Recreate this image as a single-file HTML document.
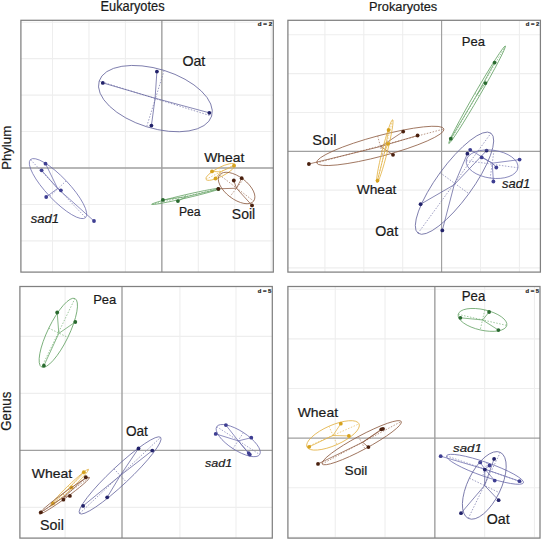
<!DOCTYPE html>
<html><head><meta charset="utf-8"><style>
html,body{margin:0;padding:0;background:#fff;width:542px;height:540px;overflow:hidden}
svg{display:block}
text{font-family:"Liberation Sans",sans-serif}
</style></head><body>
<svg width="542" height="540" viewBox="0 0 542 540">
<rect width="542" height="540" fill="#fff"/>
<path d="M20.9 22.20H273.3M52.50 20.3V272.1M20.9 58.65H273.3M88.95 20.3V272.1M20.9 95.10H273.3M125.40 20.3V272.1M20.9 131.55H273.3M198.30 20.3V272.1M20.9 204.45H273.3M234.75 20.3V272.1M20.9 240.90H273.3M271.20 20.3V272.1" stroke="#eeeeee" stroke-width="1.1" fill="none"/>
<path d="M161.85 20.3V272.1M20.9 168.00H273.3" stroke="#a0a0a0" stroke-width="1.4" fill="none"/>
<rect x="20.9" y="20.3" width="252.4" height="251.8" stroke="#808080" stroke-width="1.25" fill="none"/>
<path d="M324.90 20.3V272.1M287.9 34.75H540.4M363.80 20.3V272.1M287.9 73.60H540.4M402.70 20.3V272.1M287.9 112.45H540.4M480.50 20.3V272.1M287.9 190.15H540.4M519.40 20.3V272.1M287.9 229.00H540.4M287.9 267.85H540.4" stroke="#eeeeee" stroke-width="1.1" fill="none"/>
<path d="M441.60 20.3V272.1M287.9 151.30H540.4" stroke="#a0a0a0" stroke-width="1.15" fill="none"/>
<rect x="287.9" y="20.3" width="252.5" height="251.8" stroke="#808080" stroke-width="1.25" fill="none"/>
<path d="M65.10 286.5V538.1M179.90 286.5V538.1M236.00 286.5V538.1M19.9 336.40H272.3M19.9 393.40H272.3M19.9 507.40H272.3" stroke="#eeeeee" stroke-width="1.1" fill="none"/>
<path d="M122.00 286.5V538.1M19.9 450.40H272.3" stroke="#a0a0a0" stroke-width="1.4" fill="none"/>
<rect x="19.9" y="286.5" width="252.4" height="251.60000000000002" stroke="#808080" stroke-width="1.25" fill="none"/>
<path d="M287.9 289.30H540.0M335.25 286.5V538.1M287.9 338.90H540.0M385.05 286.5V538.1M287.9 388.50H540.0M484.65 286.5V538.1M287.9 487.70H540.0M534.45 286.5V538.1M287.9 537.30H540.0" stroke="#eeeeee" stroke-width="1.1" fill="none"/>
<path d="M434.85 286.5V538.1M287.9 438.10H540.0" stroke="#a0a0a0" stroke-width="1.4" fill="none"/>
<rect x="287.9" y="286.5" width="252.10000000000002" height="251.60000000000002" stroke="#808080" stroke-width="1.25" fill="none"/>
<ellipse cx="155.40" cy="98.60" rx="58.90" ry="29.50" transform="rotate(17.30 155.40 98.60)" fill="none" stroke="#62629c" stroke-width="0.75"/>
<path d="M99.16 81.08L211.64 116.12M164.17 70.43L146.63 126.77" stroke="#7272a8" stroke-width="0.7" stroke-dasharray="1.5 1.5" fill="none"/>
<path d="M155.10 98.22L102.80 82.90M155.10 98.22L156.90 71.60M155.10 98.22L209.30 112.80M155.10 98.22L151.40 125.60" stroke="#62629c" stroke-width="0.75" fill="none"/>
<circle cx="102.80" cy="82.90" r="1.9" fill="#22226a"/>
<circle cx="156.90" cy="71.60" r="1.9" fill="#22226a"/>
<circle cx="209.30" cy="112.80" r="1.9" fill="#22226a"/>
<circle cx="151.40" cy="125.60" r="1.9" fill="#22226a"/>
<ellipse cx="58.00" cy="188.60" rx="40.00" ry="11.30" transform="rotate(46.50 58.00 188.60)" fill="none" stroke="#6c6cac" stroke-width="0.75"/>
<path d="M30.47 159.59L85.53 217.61M66.20 180.82L49.80 196.38" stroke="#7c7cb4" stroke-width="0.7" stroke-dasharray="1.5 1.5" fill="none"/>
<path d="M57.64 188.46L45.50 163.70M57.64 188.46L41.60 170.30M57.64 188.46L60.90 190.30M57.64 188.46L46.20 197.00M57.64 188.46L94.00 221.00" stroke="#6c6cac" stroke-width="0.75" fill="none"/>
<circle cx="45.50" cy="163.70" r="1.9" fill="#3e3e92"/>
<circle cx="41.60" cy="170.30" r="1.9" fill="#3e3e92"/>
<circle cx="60.90" cy="190.30" r="1.9" fill="#3e3e92"/>
<circle cx="46.20" cy="197.00" r="1.9" fill="#3e3e92"/>
<circle cx="94.00" cy="221.00" r="1.9" fill="#3e3e92"/>
<ellipse cx="185.80" cy="196.40" rx="35.00" ry="1.70" transform="rotate(-13.10 185.80 196.40)" fill="none" stroke="#62a062" stroke-width="0.75"/>
<path d="M151.71 204.33L219.89 188.47M185.41 194.74L186.19 198.06" stroke="#74b074" stroke-width="0.7" stroke-dasharray="1.5 1.5" fill="none"/>
<path d="M186.40 196.70L162.90 199.90M186.40 196.70L177.90 201.10M186.40 196.70L218.40 189.10" stroke="#62a062" stroke-width="0.75" fill="none"/>
<circle cx="162.90" cy="199.90" r="1.9" fill="#2a6a30"/>
<circle cx="177.90" cy="201.10" r="1.9" fill="#2a6a30"/>
<circle cx="218.40" cy="189.10" r="1.9" fill="#2a6a30"/>
<ellipse cx="220.50" cy="171.90" rx="16.30" ry="4.50" transform="rotate(-27.00 220.50 171.90)" fill="none" stroke="#e2b040" stroke-width="0.75"/>
<path d="M205.98 179.30L235.02 164.50M218.46 167.89L222.54 175.91" stroke="#e6ba58" stroke-width="0.7" stroke-dasharray="1.5 1.5" fill="none"/>
<path d="M220.50 171.87L212.00 171.40M220.50 171.87L215.50 178.50M220.50 171.87L234.00 165.70" stroke="#e2b040" stroke-width="0.75" fill="none"/>
<circle cx="212.00" cy="171.40" r="1.9" fill="#d6a21e"/>
<circle cx="215.50" cy="178.50" r="1.9" fill="#d6a21e"/>
<circle cx="234.00" cy="165.70" r="1.9" fill="#d6a21e"/>
<ellipse cx="236.60" cy="188.00" rx="21.50" ry="11.00" transform="rotate(37.50 236.60 188.00)" fill="none" stroke="#8c5a40" stroke-width="0.75"/>
<path d="M219.54 174.91L253.66 201.09M243.30 179.27L229.90 196.73" stroke="#9c6c52" stroke-width="0.7" stroke-dasharray="1.5 1.5" fill="none"/>
<path d="M236.45 188.22L233.80 180.50M236.45 188.22L241.70 178.20M236.45 188.22L252.00 205.40M236.45 188.22L218.30 188.80" stroke="#8c5a40" stroke-width="0.75" fill="none"/>
<circle cx="233.80" cy="180.50" r="1.9" fill="#4a200e"/>
<circle cx="241.70" cy="178.20" r="1.9" fill="#4a200e"/>
<circle cx="252.00" cy="205.40" r="1.9" fill="#4a200e"/>
<circle cx="218.30" cy="188.80" r="1.9" fill="#4a200e"/>
<ellipse cx="380.30" cy="145.90" rx="65.90" ry="10.30" transform="rotate(-14.90 380.30 145.90)" fill="none" stroke="#8c5a40" stroke-width="0.75"/>
<path d="M316.62 162.85L443.98 128.95M377.65 135.95L382.95 155.85" stroke="#9c6c52" stroke-width="0.7" stroke-dasharray="1.5 1.5" fill="none"/>
<path d="M380.68 146.47L308.90 164.00M380.68 146.47L403.20 131.60M380.68 146.47L417.60 135.50M380.68 146.47L393.00 154.80" stroke="#8c5a40" stroke-width="0.75" fill="none"/>
<circle cx="308.90" cy="164.00" r="1.9" fill="#4a200e"/>
<circle cx="403.20" cy="131.60" r="1.9" fill="#4a200e"/>
<circle cx="417.60" cy="135.50" r="1.9" fill="#4a200e"/>
<circle cx="393.00" cy="154.80" r="1.9" fill="#4a200e"/>
<ellipse cx="384.80" cy="151.20" rx="32.40" ry="2.60" transform="rotate(-76.00 384.80 151.20)" fill="none" stroke="#e2b040" stroke-width="0.75"/>
<path d="M376.96 182.64L392.64 119.76M382.28 150.57L387.32 151.83" stroke="#e6ba58" stroke-width="0.7" stroke-dasharray="1.5 1.5" fill="none"/>
<path d="M384.70 151.47L388.60 130.00M384.70 151.47L388.00 143.80M384.70 151.47L377.50 180.60" stroke="#e2b040" stroke-width="0.75" fill="none"/>
<circle cx="388.60" cy="130.00" r="1.9" fill="#d6a21e"/>
<circle cx="388.00" cy="143.80" r="1.9" fill="#d6a21e"/>
<circle cx="377.50" cy="180.60" r="1.9" fill="#d6a21e"/>
<ellipse cx="477.10" cy="94.70" rx="56.30" ry="2.60" transform="rotate(-59.90 477.10 94.70)" fill="none" stroke="#62a062" stroke-width="0.75"/>
<path d="M448.86 143.41L505.34 45.99M474.85 93.40L479.35 96.00" stroke="#74b074" stroke-width="0.7" stroke-dasharray="1.5 1.5" fill="none"/>
<path d="M476.93 94.80L494.60 62.60M476.93 94.80L485.40 83.10M476.93 94.80L450.80 138.70" stroke="#62a062" stroke-width="0.75" fill="none"/>
<circle cx="494.60" cy="62.60" r="1.9" fill="#2a6a30"/>
<circle cx="485.40" cy="83.10" r="1.9" fill="#2a6a30"/>
<circle cx="450.80" cy="138.70" r="1.9" fill="#2a6a30"/>
<ellipse cx="454.50" cy="183.20" rx="61.90" ry="17.80" transform="rotate(-53.90 454.50 183.20)" fill="none" stroke="#62629c" stroke-width="0.75"/>
<path d="M418.03 233.21L490.97 133.19M440.12 172.71L468.88 193.69" stroke="#7272a8" stroke-width="0.7" stroke-dasharray="1.5 1.5" fill="none"/>
<path d="M454.23 184.72L420.60 204.20M454.23 184.72L442.30 230.40M454.23 184.72L486.60 150.60M454.23 184.72L467.40 153.70" stroke="#62629c" stroke-width="0.75" fill="none"/>
<circle cx="420.60" cy="204.20" r="1.9" fill="#22226a"/>
<circle cx="442.30" cy="230.40" r="1.9" fill="#22226a"/>
<circle cx="486.60" cy="150.60" r="1.9" fill="#22226a"/>
<circle cx="467.40" cy="153.70" r="1.9" fill="#22226a"/>
<ellipse cx="492.10" cy="164.20" rx="26.10" ry="14.00" transform="rotate(7.90 492.10 164.20)" fill="none" stroke="#6c6cac" stroke-width="0.75"/>
<path d="M466.25 160.61L517.95 167.79M494.02 150.33L490.18 178.07" stroke="#7c7cb4" stroke-width="0.7" stroke-dasharray="1.5 1.5" fill="none"/>
<path d="M492.24 163.16L470.20 149.80M492.24 163.16L481.70 157.40M492.24 163.16L519.60 159.60M492.24 163.16L496.30 167.50M492.24 163.16L493.40 181.50" stroke="#6c6cac" stroke-width="0.75" fill="none"/>
<circle cx="470.20" cy="149.80" r="1.9" fill="#3e3e92"/>
<circle cx="481.70" cy="157.40" r="1.9" fill="#3e3e92"/>
<circle cx="519.60" cy="159.60" r="1.9" fill="#3e3e92"/>
<circle cx="496.30" cy="167.50" r="1.9" fill="#3e3e92"/>
<circle cx="493.40" cy="181.50" r="1.9" fill="#3e3e92"/>
<ellipse cx="58.30" cy="332.80" rx="38.10" ry="10.60" transform="rotate(-64.10 58.30 332.80)" fill="none" stroke="#62a062" stroke-width="0.75"/>
<path d="M41.66 367.07L74.94 298.53M48.76 328.17L67.84 337.43" stroke="#74b074" stroke-width="0.7" stroke-dasharray="1.5 1.5" fill="none"/>
<path d="M58.80 333.40L57.20 312.50M58.80 333.40L75.30 322.00M58.80 333.40L43.90 365.70" stroke="#62a062" stroke-width="0.75" fill="none"/>
<circle cx="57.20" cy="312.50" r="1.9" fill="#2a6a30"/>
<circle cx="75.30" cy="322.00" r="1.9" fill="#2a6a30"/>
<circle cx="43.90" cy="365.70" r="1.9" fill="#2a6a30"/>
<ellipse cx="120.10" cy="475.40" rx="55.60" ry="9.00" transform="rotate(-43.20 120.10 475.40)" fill="none" stroke="#62629c" stroke-width="0.75"/>
<path d="M79.57 513.46L160.63 437.34M113.94 468.84L126.26 481.96" stroke="#7272a8" stroke-width="0.7" stroke-dasharray="1.5 1.5" fill="none"/>
<path d="M120.28 475.55L83.10 505.90M120.28 475.55L107.20 497.30M120.28 475.55L138.50 448.40M120.28 475.55L152.30 450.60" stroke="#62629c" stroke-width="0.75" fill="none"/>
<circle cx="83.10" cy="505.90" r="1.9" fill="#22226a"/>
<circle cx="107.20" cy="497.30" r="1.9" fill="#22226a"/>
<circle cx="138.50" cy="448.40" r="1.9" fill="#22226a"/>
<circle cx="152.30" cy="450.60" r="1.9" fill="#22226a"/>
<ellipse cx="69.40" cy="487.70" rx="26.50" ry="2.20" transform="rotate(-43.90 69.40 487.70)" fill="none" stroke="#e2b040" stroke-width="0.75"/>
<path d="M50.31 506.08L88.49 469.32M67.87 486.11L70.93 489.29" stroke="#e6ba58" stroke-width="0.7" stroke-dasharray="1.5 1.5" fill="none"/>
<path d="M69.37 487.67L83.80 472.20M69.37 487.67L71.40 487.40M69.37 487.67L52.90 503.40" stroke="#e2b040" stroke-width="0.75" fill="none"/>
<circle cx="83.80" cy="472.20" r="1.9" fill="#d6a21e"/>
<circle cx="71.40" cy="487.40" r="1.9" fill="#d6a21e"/>
<circle cx="52.90" cy="503.40" r="1.9" fill="#d6a21e"/>
<ellipse cx="64.40" cy="495.70" rx="31.00" ry="2.60" transform="rotate(-36.10 64.40 495.70)" fill="none" stroke="#8c5a40" stroke-width="0.75"/>
<path d="M39.35 513.97L89.45 477.43M62.87 493.60L65.93 497.80" stroke="#9c6c52" stroke-width="0.7" stroke-dasharray="1.5 1.5" fill="none"/>
<path d="M64.97 496.27L85.80 477.20M64.97 496.27L69.90 495.90M64.97 496.27L63.40 499.70M64.97 496.27L40.80 512.30" stroke="#8c5a40" stroke-width="0.75" fill="none"/>
<circle cx="85.80" cy="477.20" r="1.9" fill="#4a200e"/>
<circle cx="69.90" cy="495.90" r="1.9" fill="#4a200e"/>
<circle cx="63.40" cy="499.70" r="1.9" fill="#4a200e"/>
<circle cx="40.80" cy="512.30" r="1.9" fill="#4a200e"/>
<ellipse cx="238.20" cy="440.60" rx="25.60" ry="9.60" transform="rotate(33.00 238.20 440.60)" fill="none" stroke="#6c6cac" stroke-width="0.75"/>
<path d="M216.73 426.66L259.67 454.54M243.43 432.55L232.97 448.65" stroke="#7c7cb4" stroke-width="0.7" stroke-dasharray="1.5 1.5" fill="none"/>
<path d="M238.28 440.88L225.90 425.10M238.28 440.88L215.70 433.90M238.28 440.88L251.30 437.70M238.28 440.88L248.70 453.10M238.28 440.88L249.80 454.60" stroke="#6c6cac" stroke-width="0.75" fill="none"/>
<circle cx="225.90" cy="425.10" r="1.9" fill="#3e3e92"/>
<circle cx="215.70" cy="433.90" r="1.9" fill="#3e3e92"/>
<circle cx="251.30" cy="437.70" r="1.9" fill="#3e3e92"/>
<circle cx="248.70" cy="453.10" r="1.9" fill="#3e3e92"/>
<circle cx="249.80" cy="454.60" r="1.9" fill="#3e3e92"/>
<ellipse cx="482.50" cy="319.90" rx="24.90" ry="10.30" transform="rotate(12.85 482.50 319.90)" fill="none" stroke="#62a062" stroke-width="0.75"/>
<path d="M458.22 314.36L506.78 325.44M484.79 309.86L480.21 329.94" stroke="#74b074" stroke-width="0.7" stroke-dasharray="1.5 1.5" fill="none"/>
<path d="M482.63 319.97L460.40 317.80M482.63 319.97L489.10 312.00M482.63 319.97L498.40 330.10" stroke="#62a062" stroke-width="0.75" fill="none"/>
<circle cx="460.40" cy="317.80" r="1.9" fill="#2a6a30"/>
<circle cx="489.10" cy="312.00" r="1.9" fill="#2a6a30"/>
<circle cx="498.40" cy="330.10" r="1.9" fill="#2a6a30"/>
<ellipse cx="333.00" cy="435.40" rx="28.50" ry="10.00" transform="rotate(-23.90 333.00 435.40)" fill="none" stroke="#e2b040" stroke-width="0.75"/>
<path d="M306.94 446.95L359.06 423.85M328.95 426.26L337.05 444.54" stroke="#e6ba58" stroke-width="0.7" stroke-dasharray="1.5 1.5" fill="none"/>
<path d="M332.97 435.47L309.20 446.80M332.97 435.47L340.80 423.70M332.97 435.47L348.90 435.90" stroke="#e2b040" stroke-width="0.75" fill="none"/>
<circle cx="309.20" cy="446.80" r="1.9" fill="#d6a21e"/>
<circle cx="340.80" cy="423.70" r="1.9" fill="#d6a21e"/>
<circle cx="348.90" cy="435.90" r="1.9" fill="#d6a21e"/>
<ellipse cx="361.70" cy="442.70" rx="44.90" ry="7.00" transform="rotate(-28.20 361.70 442.70)" fill="none" stroke="#8c5a40" stroke-width="0.75"/>
<path d="M322.13 463.92L401.27 421.48M358.39 436.53L365.01 448.87" stroke="#9c6c52" stroke-width="0.7" stroke-dasharray="1.5 1.5" fill="none"/>
<path d="M362.68 442.27L318.00 463.90M362.68 442.27L368.40 447.10M362.68 442.27L381.30 429.30M362.68 442.27L383.00 428.80" stroke="#8c5a40" stroke-width="0.75" fill="none"/>
<circle cx="318.00" cy="463.90" r="1.9" fill="#4a200e"/>
<circle cx="368.40" cy="447.10" r="1.9" fill="#4a200e"/>
<circle cx="381.30" cy="429.30" r="1.9" fill="#4a200e"/>
<circle cx="383.00" cy="428.80" r="1.9" fill="#4a200e"/>
<ellipse cx="485.00" cy="469.30" rx="40.70" ry="7.00" transform="rotate(19.30 485.00 469.30)" fill="none" stroke="#6c6cac" stroke-width="0.75"/>
<path d="M446.59 455.85L523.41 482.75M487.31 462.69L482.69 475.91" stroke="#7c7cb4" stroke-width="0.7" stroke-dasharray="1.5 1.5" fill="none"/>
<path d="M484.92 469.18L440.70 456.20M484.92 469.18L519.50 481.20M484.92 469.18L480.20 462.40M484.92 469.18L489.50 465.50M484.92 469.18L494.70 480.60" stroke="#6c6cac" stroke-width="0.75" fill="none"/>
<circle cx="440.70" cy="456.20" r="1.9" fill="#3e3e92"/>
<circle cx="519.50" cy="481.20" r="1.9" fill="#3e3e92"/>
<circle cx="480.20" cy="462.40" r="1.9" fill="#3e3e92"/>
<circle cx="489.50" cy="465.50" r="1.9" fill="#3e3e92"/>
<circle cx="494.70" cy="480.60" r="1.9" fill="#3e3e92"/>
<ellipse cx="484.30" cy="485.40" rx="36.70" ry="16.60" transform="rotate(-64.10 484.30 485.40)" fill="none" stroke="#62629c" stroke-width="0.75"/>
<path d="M468.27 518.41L500.33 452.39M469.37 478.15L499.23 492.65" stroke="#7272a8" stroke-width="0.7" stroke-dasharray="1.5 1.5" fill="none"/>
<path d="M484.62 485.48L494.10 458.90M484.62 485.48L484.80 469.60M484.62 485.48L498.60 500.20M484.62 485.48L461.00 513.20" stroke="#62629c" stroke-width="0.75" fill="none"/>
<circle cx="494.10" cy="458.90" r="1.9" fill="#22226a"/>
<circle cx="484.80" cy="469.60" r="1.9" fill="#22226a"/>
<circle cx="498.60" cy="500.20" r="1.9" fill="#22226a"/>
<circle cx="461.00" cy="513.20" r="1.9" fill="#22226a"/>
<text transform="translate(100.47,11.22) scale(0.9343,1)" style="font-size:13.72px;" fill="#1a1a1a" stroke="#1a1a1a" stroke-width="0.2">Eukaryotes</text>
<text transform="translate(368.97,11.44) scale(1.0124,1)" style="font-size:12.66px;" fill="#1a1a1a" stroke="#1a1a1a" stroke-width="0.2">Prokaryotes</text>
<text transform="translate(182.39,66.45) scale(0.9810,1)" style="font-size:14.51px;" fill="#1a1a1a" stroke="#1a1a1a" stroke-width="0.2">Oat</text>
<text transform="translate(204.20,161.87) scale(1.0961,1)" style="font-size:12.70px;" fill="#1a1a1a" stroke="#1a1a1a" stroke-width="0.2">Wheat</text>
<text transform="translate(231.80,219.36) scale(1.0157,1)" style="font-size:13.78px;" fill="#1a1a1a" stroke="#1a1a1a" stroke-width="0.2">Soil</text>
<text transform="translate(178.93,216.27) scale(0.9471,1)" style="font-size:12.86px;" fill="#1a1a1a" stroke="#1a1a1a" stroke-width="0.2">Pea</text>
<text transform="translate(30.80,222.58) scale(1.0956,1)" style="font-size:11.89px;font-style:italic;" fill="#1a1a1a" stroke="#1a1a1a" stroke-width="0.2">sad1</text>
<text transform="translate(312.27,145.06) scale(1.0039,1)" style="font-size:14.46px;" fill="#1a1a1a" stroke="#1a1a1a" stroke-width="0.2">Soil</text>
<text transform="translate(356.70,193.77) scale(1.0490,1)" style="font-size:13.11px;" fill="#1a1a1a" stroke="#1a1a1a" stroke-width="0.2">Wheat</text>
<text transform="translate(461.76,45.87) scale(1.0045,1)" style="font-size:13.00px;" fill="#1a1a1a" stroke="#1a1a1a" stroke-width="0.2">Pea</text>
<text transform="translate(502.00,188.27) scale(1.0329,1)" style="font-size:12.57px;font-style:italic;" fill="#1a1a1a" stroke="#1a1a1a" stroke-width="0.2">sad1</text>
<text transform="translate(375.29,236.45) scale(0.9532,1)" style="font-size:14.93px;" fill="#1a1a1a" stroke="#1a1a1a" stroke-width="0.2">Oat</text>
<text transform="translate(93.16,304.16) scale(0.9579,1)" style="font-size:13.57px;" fill="#1a1a1a" stroke="#1a1a1a" stroke-width="0.2">Pea</text>
<text transform="translate(125.92,436.16) scale(0.9694,1)" style="font-size:14.08px;" fill="#1a1a1a" stroke="#1a1a1a" stroke-width="0.2">Oat</text>
<text transform="translate(31.80,477.88) scale(1.1477,1)" style="font-size:12.16px;" fill="#1a1a1a" stroke="#1a1a1a" stroke-width="0.2">Wheat</text>
<text transform="translate(40.09,529.85) scale(0.9505,1)" style="font-size:15.00px;" fill="#1a1a1a" stroke="#1a1a1a" stroke-width="0.2">Soil</text>
<text transform="translate(205.10,466.58) scale(1.0756,1)" style="font-size:11.62px;font-style:italic;" fill="#1a1a1a" stroke="#1a1a1a" stroke-width="0.2">sad1</text>
<text transform="translate(461.74,301.46) scale(0.9651,1)" style="font-size:13.71px;" fill="#1a1a1a" stroke="#1a1a1a" stroke-width="0.2">Pea</text>
<text transform="translate(297.70,417.47) scale(1.0540,1)" style="font-size:13.24px;" fill="#1a1a1a" stroke="#1a1a1a" stroke-width="0.2">Wheat</text>
<text transform="translate(344.52,474.97) scale(1.0434,1)" style="font-size:13.11px;" fill="#1a1a1a" stroke="#1a1a1a" stroke-width="0.2">Soil</text>
<text transform="translate(453.10,451.59) scale(1.1788,1)" style="font-size:11.22px;font-style:italic;" fill="#1a1a1a" stroke="#1a1a1a" stroke-width="0.2">sad1</text>
<text transform="translate(486.69,524.46) scale(1.0206,1)" style="font-size:13.94px;" fill="#1a1a1a" stroke="#1a1a1a" stroke-width="0.2">Oat</text>
<text transform="translate(10.87,169.86) rotate(-90) scale(1.0169,1)" style="font-size:12.98px" fill="#1a1a1a" stroke="#1a1a1a" stroke-width="0.2">Phylum</text>
<text transform="translate(10.96,430.66) rotate(-90) scale(0.9384,1)" style="font-size:14.08px" fill="#1a1a1a" stroke="#1a1a1a" stroke-width="0.2">Genus</text>
<text transform="translate(257.75,26.14) scale(1.0483,1)" style="font-size:5.95px;font-weight:bold;" fill="#222" stroke="#222" stroke-width="0.2">d = 2</text>
<text transform="translate(525.66,26.14) scale(1.0187,1)" style="font-size:5.81px;font-weight:bold;" fill="#222" stroke="#222" stroke-width="0.2">d = 2</text>
<text transform="translate(257.66,292.94) scale(1.0383,1)" style="font-size:5.68px;font-weight:bold;" fill="#222" stroke="#222" stroke-width="0.2">d = 5</text>
<text transform="translate(525.57,292.94) scale(1.0475,1)" style="font-size:5.54px;font-weight:bold;" fill="#222" stroke="#222" stroke-width="0.2">d = 5</text>
</svg>
</body></html>
